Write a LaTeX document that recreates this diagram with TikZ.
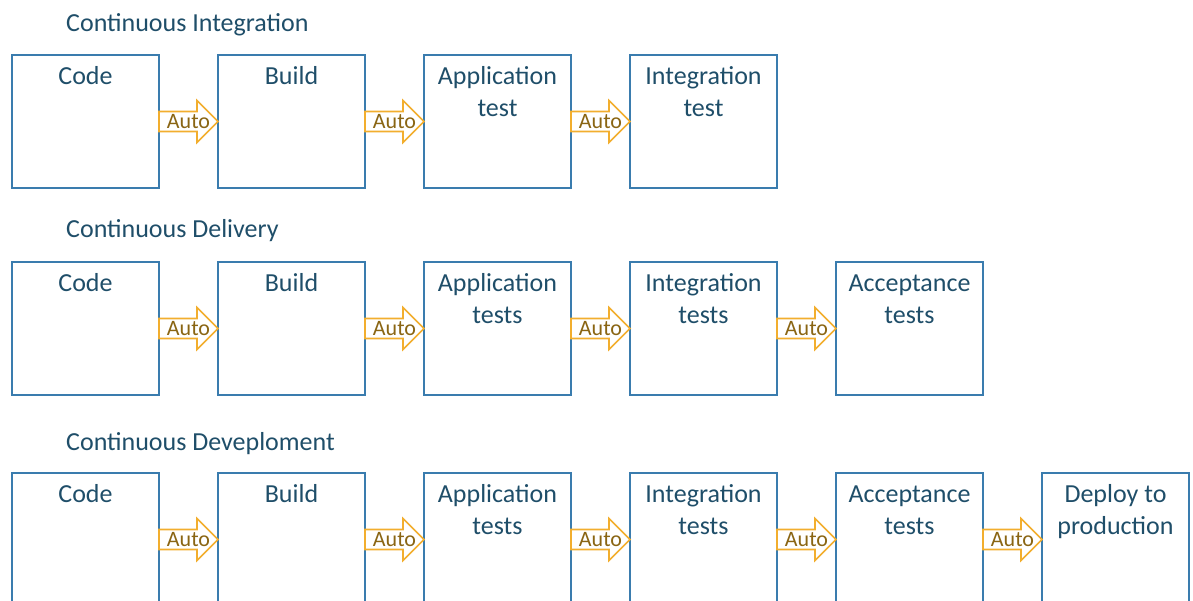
\documentclass[tikz,border=0pt]{standalone}
\usepackage{fontspec}
\setmainfont{Carlito}
\usetikzlibrary{positioning,calc}

\definecolor{boxblue}{HTML}{3A7CAE}
\definecolor{textblue}{HTML}{1F4E69}
\definecolor{autoorange}{HTML}{F2AE2E}
\definecolor{autotext}{HTML}{8A6513}

\newcommand{\boxfont}{\fontsize{26}{32}\selectfont}
\newcommand{\autofont}{\fontsize{22}{26}\selectfont}

% fat arrow with "Auto" between two boxes
\newcommand{\autoarrow}[2]{%
	\draw[autoarrow] ($(#1.east)+(0,10)$) -- ($(#2.west)+(-21,10)$) -- ($(#2.west)+(-21,21)$)
		-- (#2.west) -- ($(#2.west)+(-21,-21)$) -- ($(#2.west)+(-21,-10)$) -- ($(#1.east)+(0,-10)$) -- cycle;
	\node[autolabel] at ($(#1.east)!0.5!(#2.west)$) {Auto};
}

\begin{document}
\begin{tikzpicture}[x=1pt, y=-1pt, node distance=59pt,
	box/.style={draw=boxblue, line width=1.5pt, minimum width=147pt, minimum height=133pt, inner sep=0pt, outer sep=0pt},
	boxlabel/.style={anchor=north, inner sep=0pt, yshift=-7pt, align=center, font=\boxfont, text=textblue},
	heading/.style={anchor=base west, inner sep=0pt, font=\boxfont, text=textblue},
	autoarrow/.style={draw=autoorange, fill=white, line width=1.6pt, line join=miter},
	autolabel/.style={inner sep=0pt, font=\autofont, text=autotext}]

	\useasboundingbox (0,0) rectangle (1193,601);
	\clip (0,0) rectangle (1193,601);

	% Continuous Integration
	\node[heading] (citl) at (66,32) {Continuous Integration};
	\node[box, anchor=north west, label={[boxlabel]north:{Code\strut}}] (ci1) at (12,55) {};
	\node[box, right=of ci1, label={[boxlabel]north:{Build\strut}}] (ci2) {};
	\node[box, right=of ci2, label={[boxlabel]north:{Application\strut\\test\strut}}] (ci3) {};
	\node[box, right=of ci3, label={[boxlabel]north:{Integration\strut\\test\strut}}] (ci4) {};
	\autoarrow{ci1}{ci2}
	\autoarrow{ci2}{ci3}
	\autoarrow{ci3}{ci4}

	% Continuous Delivery
	\node[heading] (cdtl) at (66,238) {Continuous Delivery};
	\node[box, anchor=north west, label={[boxlabel]north:{Code\strut}}] (cd1) at (12,262) {};
	\node[box, right=of cd1, label={[boxlabel]north:{Build\strut}}] (cd2) {};
	\node[box, right=of cd2, label={[boxlabel]north:{Application\strut\\tests\strut}}] (cd3) {};
	\node[box, right=of cd3, label={[boxlabel]north:{Integration\strut\\tests\strut}}] (cd4) {};
	\node[box, right=of cd4, label={[boxlabel]north:{Acceptance\strut\\tests\strut}}] (cd5) {};
	\autoarrow{cd1}{cd2}
	\autoarrow{cd2}{cd3}
	\autoarrow{cd3}{cd4}
	\autoarrow{cd4}{cd5}

	% Continuous Deveploment
	\node[heading] (cptl) at (66,450) {Continuous Deveploment};
	\node[box, anchor=north west, label={[boxlabel]north:{Code\strut}}] (cp1) at (12,473) {};
	\node[box, right=of cp1, label={[boxlabel]north:{Build\strut}}] (cp2) {};
	\node[box, right=of cp2, label={[boxlabel]north:{Application\strut\\tests\strut}}] (cp3) {};
	\node[box, right=of cp3, label={[boxlabel]north:{Integration\strut\\tests\strut}}] (cp4) {};
	\node[box, right=of cp4, label={[boxlabel]north:{Acceptance\strut\\tests\strut}}] (cp5) {};
	\node[box, right=of cp5, label={[boxlabel]north:{Deploy to\strut\\production\strut}}] (cp6) {};
	\autoarrow{cp1}{cp2}
	\autoarrow{cp2}{cp3}
	\autoarrow{cp3}{cp4}
	\autoarrow{cp4}{cp5}
	\autoarrow{cp5}{cp6}
\end{tikzpicture}
\end{document}
